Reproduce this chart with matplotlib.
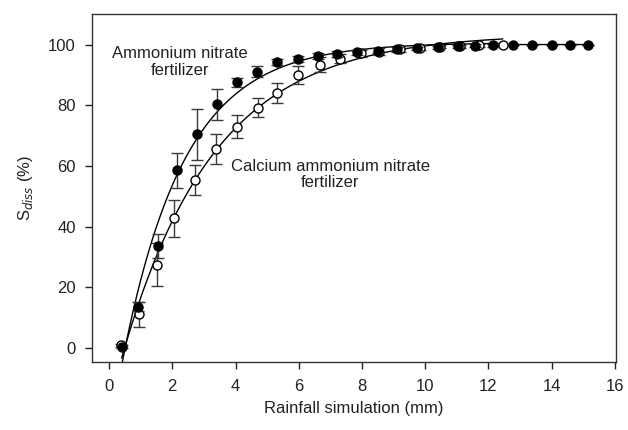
import numpy as np
import matplotlib
matplotlib.use('Agg')
import matplotlib.pyplot as plt

plt.rcParams['font.family'] = ['Liberation Sans', 'DejaVu Sans']

# Ammonium nitrate fertilizer (filled circles)
an_x = [0.40, 0.92, 1.55, 2.15, 2.78, 3.42, 4.05, 4.68, 5.32, 5.98, 6.61, 7.22, 7.85,
        8.51, 9.11, 9.75, 10.40, 11.04, 11.58, 12.15, 12.78, 13.39, 14.02, 14.59, 15.16]
an_y = [0.5, 13.6, 33.6, 58.6, 70.4, 80.3, 87.5, 91.1, 94.1, 95.1, 96.1, 97.0, 97.4,
        98.0, 98.4, 98.8, 99.1, 99.4, 99.6, 99.8, 100.0, 100.0, 100.0, 100.0, 100.0]
an_err = [0.5, 1.5, 4.0, 5.7, 8.3, 5.2, 1.5, 1.8, 1.0, 1.0, 1.0, 1.0, 0.8,
          0.8, 0.8, 0.5, 0.5, 0.5, 0.5, 0.5, 0, 0, 0, 0, 0]

# Calcium ammonium nitrate fertilizer (open circles)
can_x = [0.38, 0.95, 1.52, 2.07, 2.72, 3.39, 4.04, 4.72, 5.31, 5.99, 6.66, 7.30, 7.97,
         8.54, 9.20, 9.84, 10.47, 11.10, 11.70, 12.47]
can_y = [1.0, 11.1, 27.5, 42.7, 55.3, 65.5, 73.0, 79.2, 84.0, 90.0, 93.3, 95.3, 97.1,
         97.7, 98.5, 99.0, 99.3, 99.5, 99.7, 100.0]
can_err = [0.5, 4.0, 7.0, 6.2, 5.0, 5.0, 3.8, 3.1, 3.3, 3.0, 2.5, 1.5, 1.2,
           1.0, 1.0, 0.8, 0.6, 0.5, 0.5, 0.3]

fit_range = [0.40, 12.45]


def fit_rise(x, y):
    # y = y0 + a*(1 - exp(-b*x)), grid search on b, least squares for y0 and a
    x = np.asarray(x)
    y = np.asarray(y)
    best = None
    for b in np.linspace(0.05, 1.5, 600):
        A = np.column_stack([np.ones_like(x), 1 - np.exp(-b * x)])
        coef, res, _, _ = np.linalg.lstsq(A, y, rcond=None)
        err = np.sum((A @ coef - y) ** 2)
        if best is None or err < best[0]:
            best = (err, coef[0], coef[1], b)
    return best[1:]


fig = plt.figure(figsize=(6.28, 4.30), dpi=100)
ax = fig.add_axes([0.147, 0.158, 0.834, 0.809])

xs = np.linspace(fit_range[0], fit_range[1], 300)
for x, y in ((an_x, an_y), (can_x, can_y)):
    mask = np.asarray(x) <= fit_range[1] + 0.1
    y0, a, b = fit_rise(np.asarray(x)[mask], np.asarray(y)[mask])
    ax.plot(xs, y0 + a * (1 - np.exp(-b * xs)), color='black', lw=1.0, zorder=2)

# tail of ammonium nitrate series joined by a line
tail = [i for i, v in enumerate(an_x) if v >= 12.0]
ax.plot([an_x[i] for i in tail], [an_y[i] for i in tail], color='black', lw=1.0, zorder=2)

ax.errorbar(can_x, can_y, yerr=can_err, fmt='o', ms=6.5, mfc='white', mec='black',
            mew=1.0, ecolor='#3a3a3a', elinewidth=1.0, capsize=4.5, capthick=1.0, zorder=3)
ax.errorbar(an_x, an_y, yerr=an_err, fmt='o', ms=6.5, mfc='black', mec='black',
            mew=1.0, ecolor='#3a3a3a', elinewidth=1.0, capsize=4.5, capthick=1.0, zorder=4)

ax.text(2.25, 94.3, 'Ammonium nitrate\nfertilizer', ha='center', va='center',
        fontsize=12, color='#222222', linespacing=1.15)
ax.text(7.0, 57.2, 'Calcium ammonium nitrate\nfertilizer', ha='center', va='center',
        fontsize=12, color='#222222', linespacing=1.15)

ax.set_xlim(-0.53, 16.04)
ax.set_ylim(-4.6, 110)
ax.set_xticks(range(0, 17, 2))
ax.set_yticks(range(0, 101, 20))
ax.tick_params(direction='out', length=5, width=1, labelsize=12, colors='#222222', pad=7)
for s in ax.spines.values():
    s.set_color('#333333')
    s.set_linewidth(1.0)

ax.set_xlabel('Rainfall simulation (mm)', fontsize=12, color='#222222', labelpad=5)
ax.set_ylabel('S$_{diss}$ (%)', fontsize=12, color='#222222', labelpad=9)

fig.savefig('out.png', dpi=100)
